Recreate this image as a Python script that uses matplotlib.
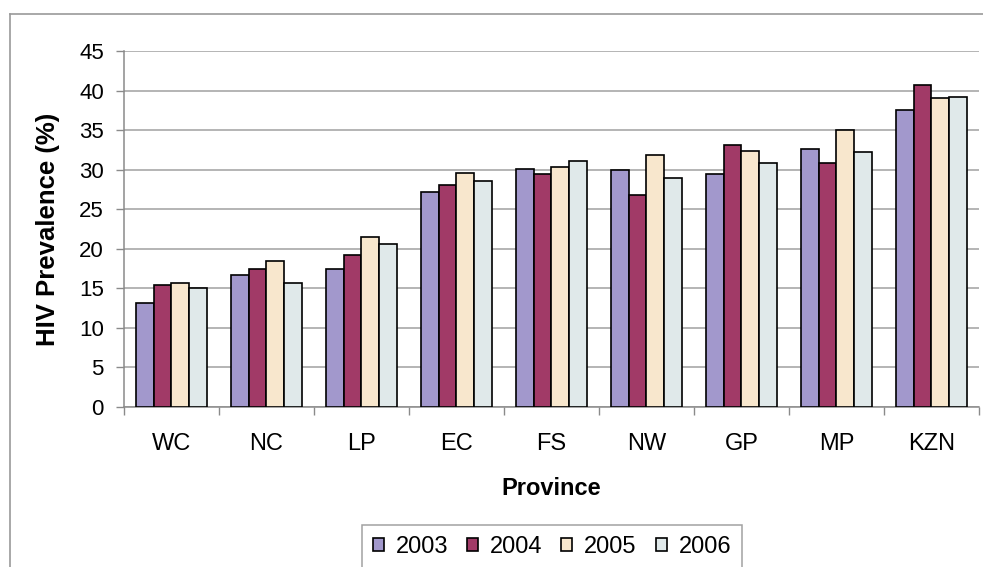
import matplotlib
matplotlib.use("Agg")
import matplotlib.pyplot as plt
import numpy as np
from matplotlib.lines import Line2D

plt.rcParams['font.family'] = ['Liberation Sans', 'DejaVu Sans']

provinces = ["WC", "NC", "LP", "EC", "FS", "NW", "GP", "MP", "KZN"]
years = ["2003", "2004", "2005", "2006"]
prev_2003 = [13.2, 16.7, 17.4, 27.2, 30.1, 30.0, 29.5, 32.6, 37.5]
prev_2004 = [15.4, 17.5, 19.2, 28.0, 29.5, 26.8, 33.1, 30.8, 40.7]
prev_2005 = [15.7, 18.4, 21.5, 29.6, 30.4, 31.8, 32.4, 35.0, 39.1]
prev_2006 = [15.1, 15.7, 20.6, 28.6, 31.1, 29.0, 30.8, 32.2, 39.2]
yticks = [0, 5, 10, 15, 20, 25, 30, 35, 40, 45]

series = [prev_2003, prev_2004, prev_2005, prev_2006]
colors = ["#a298cc", "#a13a67", "#f8e7cd", "#e0e9ea"]

W, H = 983, 567
fig = plt.figure(figsize=(W / 100, H / 100), dpi=100)
fig.patch.set_facecolor("white")

# outer chart-area frame
fig.add_artist(Line2D([10 / W, 10 / W], [0, 1 - 14 / H], transform=fig.transFigure,
                      color="#9a9a9a", lw=1.2))
fig.add_artist(Line2D([10 / W, 1], [1 - 14 / H, 1 - 14 / H], transform=fig.transFigure,
                      color="#9a9a9a", lw=1.2))

left, right, top, bottom = 124, 979, 51, 407
ax = fig.add_axes([left / W, 1 - bottom / H, (right - left) / W, (bottom - top) / H])

x = np.arange(len(provinces))
bw = 0.185
offsets = (np.arange(len(series)) - 1.5) * bw
for vals, off, col, yr in zip(series, offsets, colors, years):
    ax.bar(x + off, vals, width=bw, color=col, edgecolor="black", linewidth=1.2,
           label=yr, zorder=3)

ax.set_xlim(-0.5, len(provinces) - 0.5)
ax.set_ylim(0, 45)
ax.set_yticks(yticks)
ax.set_yticklabels([str(t) for t in yticks], fontsize=16)
ax.yaxis.grid(True, color="#a0a0a0", lw=1.1, zorder=0)
ax.set_axisbelow(True)

# category labels centred, tick marks at the category boundaries
ax.set_xticks(x)
ax.set_xticklabels(provinces, fontsize=17)
ax.set_xticks(np.arange(len(provinces) + 1) - 0.5, minor=True)
ax.tick_params(axis="x", which="major", length=0, pad=18.5)
ax.tick_params(axis="x", which="minor", length=6, color="#8a8a8a", width=1)
ax.tick_params(axis="y", length=6, color="#8a8a8a", width=1, pad=8.5)

for s in ["top", "right"]:
    ax.spines[s].set_visible(False)
for s in ["left", "bottom"]:
    ax.spines[s].set_color("#8a8a8a")
    ax.spines[s].set_linewidth(1.1)

ax.set_xlabel("Province", fontsize=17, fontweight="bold", labelpad=16)
ax.set_ylabel("HIV Prevalence (%)", fontsize=18.5, fontweight="bold", labelpad=14)

leg = fig.legend(loc="upper left", bbox_to_anchor=(362 / W, 1 - 525 / H), ncol=4,
                 fontsize=17, frameon=True, fancybox=False, edgecolor="#8a8a8a",
                 handlelength=0.47, handleheight=0.47, handletextpad=0.5,
                 columnspacing=0.8, borderpad=0.45, borderaxespad=0)
leg.get_frame().set_linewidth(1.1)

fig.savefig("out.png", dpi=100, facecolor="white")
